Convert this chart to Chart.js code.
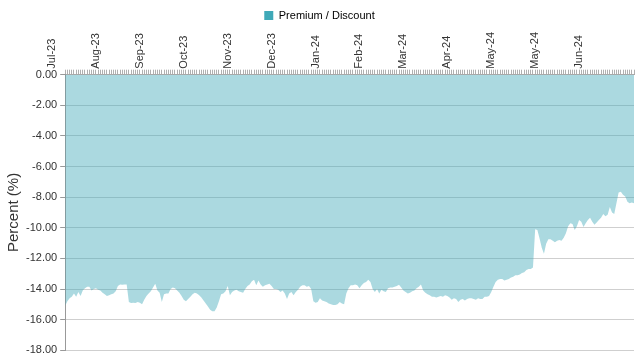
<!DOCTYPE html>
<html>
<head>
<meta charset="utf-8">
<script src="https://cdn.jsdelivr.net/npm/chart.js@4/dist/chart.umd.min.js"></script>
<style>
html,body{margin:0;padding:0;background:#fff;}
#wrap{width:640px;height:356px;position:relative;}
</style>
</head>
<body>
<div id="wrap"><canvas id="c" width="640" height="356"></canvas></div>
<script>
const seriesName = 'Premium / Discount';
const tickLabels = ['Jul-23','Aug-23','Sep-23','Oct-23','Nov-23','Dec-23','Jan-24','Feb-24','Mar-24','Apr-24','May-24','May-24','Jun-24'];
const labelEvery = 20;
const premiumDiscount = [
-15.1,-14.8,-14.6,-14.5,-14.3,-14.5,-14.2,-14.45,-14.1,-13.95,
-13.85,-13.85,-14.1,-14.0,-13.95,-14.05,-14.1,-14.25,-14.35,-14.45,
-14.4,-14.35,-14.3,-14.15,-13.8,-13.7,-13.72,-13.7,-13.7,-14.85,
-14.92,-14.9,-14.92,-14.85,-14.9,-15.0,-14.7,-14.45,-14.3,-14.15,
-13.9,-13.65,-14.1,-14.25,-14.85,-14.35,-14.3,-14.3,-14.0,-13.9,
-13.95,-14.1,-14.25,-14.45,-14.7,-14.8,-14.65,-14.5,-14.35,-14.25,
-14.3,-14.4,-14.55,-14.75,-14.95,-15.15,-15.35,-15.45,-15.45,-15.2,
-14.8,-14.35,-14.3,-14.15,-13.8,-14.4,-14.2,-14.1,-14.05,-14.15,
-14.2,-14.25,-14.0,-13.8,-13.7,-13.5,-13.4,-13.75,-13.45,-13.7,
-13.85,-13.75,-13.7,-13.65,-13.8,-14.0,-14.0,-14.05,-14.2,-14.1,
-14.3,-14.65,-14.3,-14.2,-14.4,-14.2,-14.05,-13.85,-13.75,-13.75,
-13.85,-13.8,-14.0,-14.8,-14.9,-14.85,-14.6,-14.75,-14.8,-14.85,
-14.95,-15.0,-15.05,-15.05,-15.0,-14.85,-14.95,-15.0,-14.3,-13.95,
-13.75,-13.75,-13.7,-13.75,-13.95,-13.75,-13.6,-13.55,-13.4,-13.55,
-14.0,-14.2,-14.0,-14.3,-14.05,-14.15,-14.2,-13.95,-13.9,-13.9,
-13.85,-13.8,-13.72,-13.9,-14.1,-14.2,-14.3,-14.25,-14.15,-14.1,
-13.95,-13.85,-13.7,-14.1,-14.25,-14.35,-14.4,-14.5,-14.5,-14.55,
-14.5,-14.45,-14.5,-14.4,-14.45,-14.55,-14.7,-14.6,-14.65,-14.85,
-14.7,-14.65,-14.75,-14.65,-14.6,-14.6,-14.65,-14.7,-14.6,-14.65,
-14.65,-14.5,-14.5,-14.45,-14.2,-13.85,-13.55,-13.4,-13.35,-13.35,
-13.45,-13.4,-13.35,-13.25,-13.2,-13.1,-13.1,-13.05,-12.95,-12.9,
-12.75,-12.7,-12.7,-12.6,-10.1,-10.15,-10.7,-11.3,-11.7,-11.05,
-10.75,-10.75,-10.85,-10.95,-10.85,-10.8,-10.85,-10.65,-10.35,-9.9,
-9.7,-9.75,-10.15,-9.9,-9.5,-9.6,-9.95,-9.7,-9.5,-9.35,
-9.6,-9.8,-9.65,-9.5,-9.35,-9.1,-9.25,-9.15,-8.65,-9.0,
-9.1,-8.4,-7.7,-7.65,-7.85,-7.95,-8.3,-8.4,-8.35,-8.4
];
const yMin = -18, yMax = 0, yStep = 2;
const categories = premiumDiscount.map((_, i) => i);

const FONT = "'Liberation Sans', Arial, sans-serif";

new Chart(document.getElementById('c'), {
  type: 'line',
  data: {
    labels: categories,
    datasets: [{
      label: seriesName,
      data: premiumDiscount,
      fill: 'origin',
      backgroundColor: 'rgba(60,168,184,0.43)',
      borderColor: 'rgba(0,0,0,0)',
      borderWidth: 0,
      pointRadius: 0,
      tension: 0
    }]
  },
  options: {
    responsive: false,
    animation: false,
    devicePixelRatio: 1,
    layout: { padding: { left: 5, right: 6, top: 5, bottom: 0 } },
    plugins: {
      legend: {
        display: true,
        position: 'top',
        labels: {
          boxWidth: 9, boxHeight: 9, padding: 5,
          color: '#333',
          font: { family: FONT, size: 11 },
          generateLabels: (chart) => [{
            text: seriesName,
            fillStyle: '#3fa9b8',
            strokeStyle: '#3fa9b8',
            lineWidth: 0,
            datasetIndex: 0
          }]
        }
      },
      tooltip: { enabled: false }
    },
    scales: {
      x: {
        position: 'top',
        offset: false,
        border: { display: true, color: '#aaa' },
        grid: { drawOnChartArea: false, drawTicks: true, tickLength: 5, color: '#b0b0b0' },
        ticks: {
          autoSkip: false,
          maxRotation: 90, minRotation: 90,
          padding: 1,
          color: '#333',
          font: { family: FONT, size: 11 },
          callback: (v, i) => (i % labelEvery === 0 ? tickLabels[i / labelEvery] : '')
        }
      },
      y: {
        min: yMin, max: yMax,
        border: { display: true, color: '#999' },
        grid: { color: '#cfcfcf', tickLength: 5, tickBorderDash: [0,0], tickColor: '#999' , borderDash: [2,2] },
        ticks: {
          stepSize: yStep,
          padding: 3,
          color: '#333',
          font: { family: FONT, size: 11, lineHeight: 0.5 },
          callback: (v) => Number(v).toFixed(2)
        },
        title: {
          display: true,
          text: 'Percent (%)',
          color: '#333',
          font: { family: FONT, size: 15 },
          padding: { top: 0, bottom: 0 }
        }
      }
    }
  }
});
</script>
</body>
</html>
